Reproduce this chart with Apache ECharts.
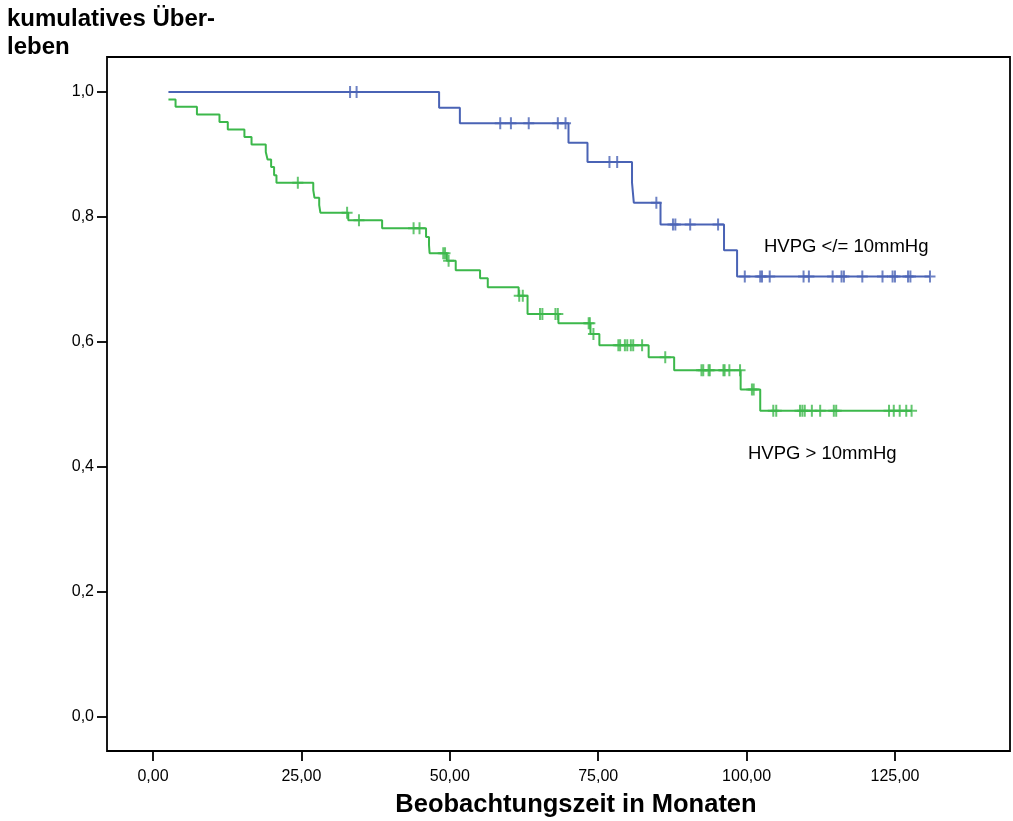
<!DOCTYPE html>
<html>
<head>
<meta charset="utf-8">
<script src="https://cdn.jsdelivr.net/npm/echarts@6/dist/echarts.min.js"></script>
<style>
  html, body { margin: 0; padding: 0; background: #ffffff; }
  #chart { width: 1013px; height: 821px; }
</style>
</head>
<body>
<div id="chart"></div>
<script>
// Kaplan-Meier curves: survival by HVPG group (months of follow-up)
const xTickValues = [0, 25, 50, 75, 100, 125];
const yTickValues = [0, 0.2, 0.4, 0.6, 0.8, 1.0];

// HVPG </= 10mmHg
const lowStartTime = 2.6;
const lowStartSurv = 1.0;
const lowEventTimes = [48.2, 51.7, 70.0, 73.2, 80.7, 81.0, 85.5, 96.2, 98.4];
const lowEventSurv  = [0.975, 0.950, 0.919, 0.888, 0.855, 0.823, 0.788, 0.747, 0.705];
const lowCensored = [33.2, 34.3, 58.5, 60.3, 63.3, 68.2, 69.5, 76.9, 78.2, 84.8,
  87.6, 88.0, 90.5, 95.2, 99.7, 102.3, 102.6, 103.9, 109.6, 110.5, 114.5, 116.0,
  116.4, 119.5, 122.9, 124.6, 125.0, 127.2, 127.6, 130.9];

// HVPG > 10mmHg
const highStartTime = 2.6;
const highStartSurv = 0.988;
const highEventTimes = [3.8, 7.4, 11.2, 12.6, 15.4, 16.6, 19.0, 19.3, 19.9, 20.4,
  20.8, 27.0, 27.2, 28.0, 28.2, 32.9, 38.6, 46.0, 46.5, 46.6, 49.5, 51.0, 55.1,
  56.4, 61.6, 63.1, 68.3, 73.7, 75.2, 83.5, 87.8, 99.0, 102.3];
const highEventSurv = [0.9765, 0.964, 0.952, 0.940, 0.928, 0.916, 0.904, 0.892,
  0.880, 0.867, 0.855, 0.843, 0.831, 0.819, 0.807, 0.795, 0.782, 0.768, 0.755,
  0.742, 0.730, 0.715, 0.702, 0.6875, 0.674, 0.645, 0.630, 0.613, 0.595, 0.5755,
  0.555, 0.524, 0.490];
const highCensored = [24.4, 32.7, 34.7, 43.9, 44.9, 48.9, 49.2, 49.8, 61.7, 62.3,
  65.2, 65.6, 67.8, 68.2, 73.4, 73.6, 74.2, 78.4, 78.7, 79.5, 79.9, 80.5, 80.9,
  82.4, 86.3, 92.4, 92.7, 93.6, 93.8, 96.1, 96.3, 97.1, 98.9, 100.9, 101.2, 104.5,
  105.0, 109.0, 109.4, 109.8, 111.0, 112.4, 114.7, 115.1, 124.0, 124.8, 125.8,
  126.9, 127.8];

const lowColor = '#4a63b5';
const highColor = '#3cb84b';

// step path: start point, one point per event, then hold to the last censored time
function stepPoints(t0, s0, times, surv, censored) {
  const pts = [[t0, s0]];
  times.forEach((t, i) => pts.push([t, surv[i]]));
  const end = Math.max(censored[censored.length - 1], times[times.length - 1]);
  pts.push([end, surv[surv.length - 1]]);
  return pts;
}
// survival level in effect at time t
function levelAt(t, s0, times, surv) {
  let s = s0;
  for (let i = 0; i < times.length; i++) if (times[i] <= t) s = surv[i];
  return s;
}
function censorPoints(censored, s0, times, surv) {
  return censored.map(t => [t, levelAt(t, s0, times, surv)]);
}

// "+" marker used for censored observations
const plusSymbol = 'path://M4.5,0 L6.5,0 L6.5,12 L4.5,12 Z M0,5 L11,5 L11,7 L0,7 Z';

const chart = echarts.init(document.getElementById('chart'), null, { renderer: 'canvas' });

const tickFont = { fontFamily: 'Liberation Sans, Arial, sans-serif', fontSize: 16, color: '#000' };

chart.setOption({
  animation: false,
  backgroundColor: '#ffffff',
  grid: {
    left: 107, top: 57, width: 903, height: 694,
    show: true, borderColor: '#000', borderWidth: 1.8, backgroundColor: 'transparent'
  },
  xAxis: {
    type: 'value',
    min: -7.75, max: 144.38,
    splitLine: { show: false },
    axisLine: { show: false, onZero: false },
    axisTick: { show: true, customValues: xTickValues, length: 10, lineStyle: { color: '#000', width: 1.8 } },
    axisLabel: Object.assign({
      customValues: xTickValues, margin: 18,
      formatter: v => v.toFixed(2).replace('.', ',')
    }, tickFont)
  },
  yAxis: {
    type: 'value',
    min: -0.0544, max: 1.056,
    splitLine: { show: false },
    axisLine: { show: false, onZero: false },
    axisTick: { show: true, customValues: yTickValues, length: 10, lineStyle: { color: '#000', width: 1.8 } },
    axisLabel: Object.assign({
      customValues: yTickValues, margin: 13,
      formatter: v => v.toFixed(1).replace('.', ',')
    }, tickFont)
  },
  series: [
    {
      name: 'HVPG </= 10mmHg', type: 'line', step: 'end', showSymbol: false,
      data: stepPoints(lowStartTime, lowStartSurv, lowEventTimes, lowEventSurv, lowCensored),
      lineStyle: { color: lowColor, width: 2 }, z: 3
    },
    {
      name: 'HVPG </= 10mmHg zensiert', type: 'scatter', symbol: plusSymbol, symbolSize: [11, 12],
      data: censorPoints(lowCensored, lowStartSurv, lowEventTimes, lowEventSurv),
      itemStyle: { color: lowColor }, z: 4
    },
    {
      name: 'HVPG > 10mmHg', type: 'line', step: 'end', showSymbol: false,
      data: stepPoints(highStartTime, highStartSurv, highEventTimes, highEventSurv, highCensored),
      lineStyle: { color: highColor, width: 2 }, z: 3
    },
    {
      name: 'HVPG > 10mmHg zensiert', type: 'scatter', symbol: plusSymbol, symbolSize: [11, 12],
      data: censorPoints(highCensored, highStartSurv, highEventTimes, highEventSurv),
      itemStyle: { color: highColor }, z: 4
    }
  ],
  graphic: [
    {
      type: 'text', left: 7, top: 5,
      style: {
        text: 'kumulatives Über-\nleben', fill: '#000',
        font: 'bold 24px "Liberation Sans", Arial, sans-serif', lineHeight: 28
      }
    },
    {
      type: 'text', x: 576, y: 805,
      style: {
        text: 'Beobachtungszeit in Monaten', fill: '#000', align: 'center', verticalAlign: 'middle',
        font: 'bold 25.5px "Liberation Sans", Arial, sans-serif'
      }
    },
    {
      type: 'text', x: 764, y: 247,
      style: {
        text: 'HVPG </= 10mmHg', fill: '#000', verticalAlign: 'middle',
        font: '18.5px "Liberation Sans", Arial, sans-serif'
      }
    },
    {
      type: 'text', x: 748, y: 454,
      style: {
        text: 'HVPG > 10mmHg', fill: '#000', verticalAlign: 'middle',
        font: '18.5px "Liberation Sans", Arial, sans-serif'
      }
    }
  ]
});
</script>
</body>
</html>
